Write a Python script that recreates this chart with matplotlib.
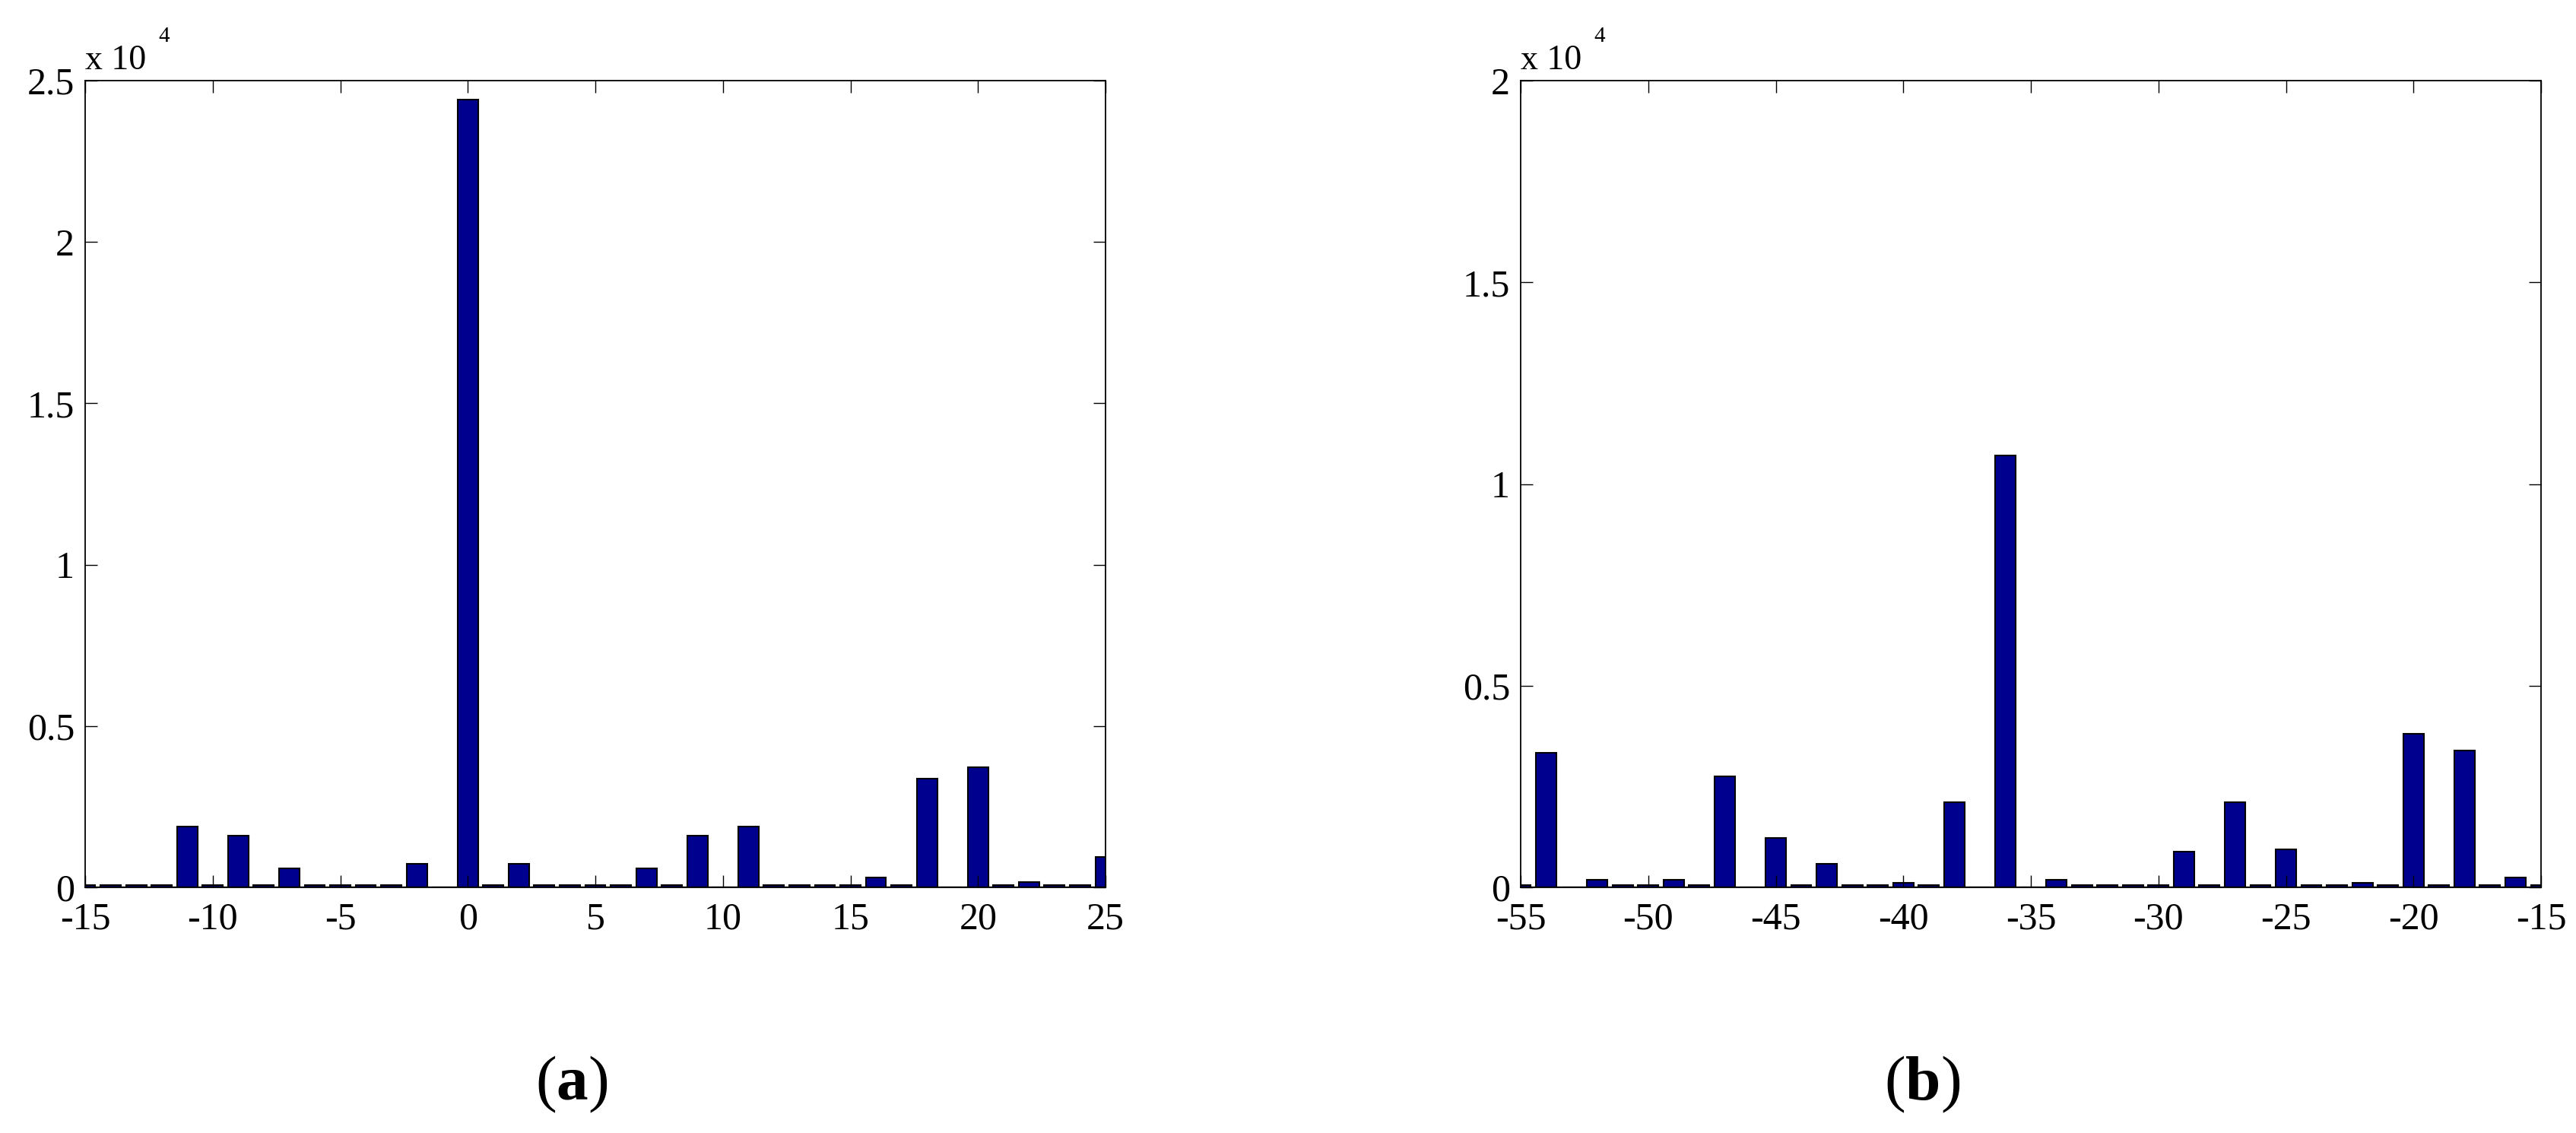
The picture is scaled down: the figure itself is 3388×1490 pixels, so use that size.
import numpy as np
import matplotlib
matplotlib.use('Agg')
import matplotlib.pyplot as plt

plt.rcParams['font.family'] = ['Liberation Serif', 'DejaVu Serif']
plt.rcParams['mathtext.fontset'] = 'custom'
plt.rcParams['mathtext.rm'] = 'Liberation Serif'
plt.rcParams['mathtext.bf'] = 'Liberation Serif:bold'

# panel (a): shifts -15..25
shift_a = list(range(-15, 26))
count_a = [60, 60, 60, 60, 1880, 60, 1610, 60, 580, 60,
           60, 60, 60, 740, 0, 24400, 60, 740, 60, 60,
           60, 60, 580, 60, 1610, 0, 1880, 60, 60, 60,
           60, 300, 60, 3360, 0, 3720, 60, 160, 60, 60,
           950]

# panel (b): shifts -55..-15
shift_b = list(range(-55, -14))
count_b = [50, 3340, 0, 180, 50, 50, 180, 50, 2750, 0,
           1230, 50, 590, 50, 50, 120, 50, 2110, 0, 10700,
           0, 180, 50, 50, 50, 50, 880, 50, 2110, 50,
           940, 50, 50, 120, 50, 3800, 50, 3390, 50, 240,
           50]

yticks_a = [0, 5000, 10000, 15000, 20000, 25000]
ylabels_a = ['0', '0.5', '1', '1.5', '2', '2.5']
yticks_b = [0, 5000, 10000, 15000, 20000]
ylabels_b = ['0', '0.5', '1', '1.5', '2']

bar_color = '#00008F'

fig = plt.figure(figsize=(33.88, 14.90), dpi=100)
W, H = 3388, 1490


def panel(left_px, x, y, xlim, ylim, yticks, ylabels, caption, cap_x):
    ax = fig.add_axes([left_px / W, (H - 1167) / H, 1342 / W, 1061 / H])
    ax.bar(x, y, width=0.8, color=bar_color, edgecolor='black', linewidth=1.5)
    ax.axhline(0, color='black', linewidth=2.5, zorder=3)
    ax.set_xlim(*xlim)
    ax.set_ylim(*ylim)
    ax.set_xticks(range(xlim[0], xlim[1] + 1, 5))
    ax.set_xticklabels([str(v) for v in range(xlim[0], xlim[1] + 1, 5)])
    ax.set_yticks(yticks)
    ax.set_yticklabels(ylabels)
    ax.tick_params(direction='in', length=11.5, width=1, top=True, right=True,
                   labelsize=36)
    ax.tick_params(axis='x', pad=14)
    ax.tick_params(axis='y', pad=10)
    for s in ax.spines.values():
        s.set_linewidth(1.3)
    # exponent label above the axes
    fig.text(left_px / W, (H - 91) / H, 'x 10', fontsize=33, va='baseline', ha='left')
    fig.text((left_px + 96) / W, (H - 55) / H, '4', fontsize=21, va='baseline', ha='left')
    fig.text(cap_x / W, (H - 1426) / H, caption, fontsize=60, ha='center', va='center')
    return ax


panel(112, shift_a, count_a, (-15, 25), (0, 25000), yticks_a, ylabels_a,
      r'$\mathrm{(}\mathbf{a}\mathrm{)}$', 752)
panel(2000, shift_b, count_b, (-55, -15), (0, 20000), yticks_b, ylabels_b,
      r'$\mathrm{(}\mathbf{b}\mathrm{)}$', 2528)

fig.savefig('out.png', dpi=100)
